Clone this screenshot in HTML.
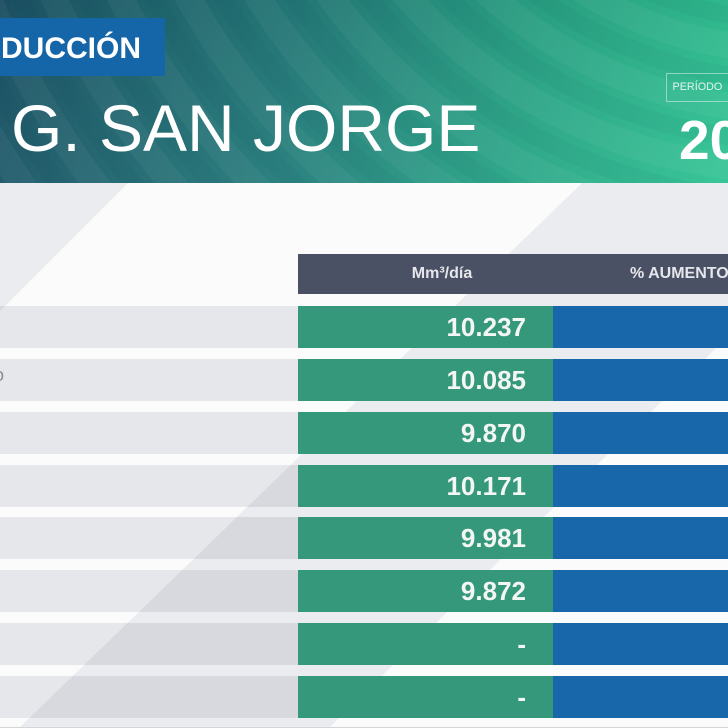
<!DOCTYPE html>
<html><head><meta charset="utf-8"><style>
html,body{margin:0;padding:0;}
body{width:728px;height:728px;overflow:hidden;position:relative;background:#fbfbfc;font-family:"Liberation Sans",Arial,sans-serif;}
.a{position:absolute;white-space:nowrap;}
.band{position:absolute;left:0;width:298px;height:42px;background:#e6e7ea;}
.g{position:absolute;left:298px;width:255px;height:42px;background:#35987a;color:#f4f6f4;font-weight:bold;font-size:26px;line-height:42px;text-align:right;box-sizing:border-box;padding-right:27px;}
.b{position:absolute;left:553px;width:175px;height:42px;background:#1867aa;}
</style></head><body>

<!-- body backgrounds -->
<div class="band" style="top:306px"></div>
<div class="band" style="top:359px"></div>
<div class="band" style="top:412px"></div>
<div class="band" style="top:465px"></div>
<div class="band" style="top:517px"></div>
<div class="band" style="top:570px"></div>
<div class="band" style="top:623px"></div>
<div class="band" style="top:676px"></div>

<svg class="a" style="left:0;top:0" width="728" height="728">
  <polygon points="582,183 884,183 329,728 19,728" fill="rgb(40,50,80)" fill-opacity="0.075"/>
  <polygon points="0,183 128,183 0,311" fill="rgb(40,50,80)" fill-opacity="0.075"/>
  <rect x="0" y="727" width="728" height="1" fill="#d4d5d8"/>
</svg>

<div class="a" style="left:-6px;top:366px;font-size:18px;line-height:18px;color:#8a8b8f;">o</div>

<!-- header -->
<svg class="a" style="left:0;top:0" width="728" height="183">
  <defs>
    <linearGradient id="hg" x1="0" y1="0" x2="728" y2="120" gradientUnits="userSpaceOnUse">
      <stop offset="0" stop-color="#1c5366"/>
      <stop offset="0.4" stop-color="#257c7b"/>
      <stop offset="0.7" stop-color="#2aa386"/>
      <stop offset="1" stop-color="#32c394"/>
    </linearGradient>
    <linearGradient id="vg" x1="0" y1="0" x2="0" y2="183" gradientUnits="userSpaceOnUse">
      <stop offset="0" stop-color="#000" stop-opacity="0.05"/>
      <stop offset="1" stop-color="#fff" stop-opacity="0.03"/>
    </linearGradient>
  </defs>
  <rect width="728" height="183" fill="url(#hg)"/>
  <rect width="728" height="183" fill="url(#vg)"/>
  <g fill="none" stroke="#ffffff" stroke-opacity="0.045" stroke-width="26">
    <circle cx="790" cy="-340" r="330"/>
    <circle cx="790" cy="-340" r="390"/>
    <circle cx="790" cy="-340" r="450"/>
    <circle cx="790" cy="-340" r="510"/>
    <circle cx="790" cy="-340" r="570"/>
    <circle cx="790" cy="-340" r="630"/>
    <circle cx="790" cy="-340" r="690"/>
    <circle cx="790" cy="-340" r="750"/>
    <circle cx="790" cy="-340" r="810"/>
    <circle cx="790" cy="-340" r="870"/>
    <circle cx="790" cy="-340" r="930"/>
    <circle cx="790" cy="-340" r="990"/>
  </g>
  <g fill="none" stroke="#0a3040" stroke-opacity="0.04" stroke-width="18">
    <circle cx="790" cy="-340" r="360"/>
    <circle cx="790" cy="-340" r="420"/>
    <circle cx="790" cy="-340" r="480"/>
    <circle cx="790" cy="-340" r="540"/>
    <circle cx="790" cy="-340" r="600"/>
    <circle cx="790" cy="-340" r="660"/>
    <circle cx="790" cy="-340" r="720"/>
    <circle cx="790" cy="-340" r="780"/>
    <circle cx="790" cy="-340" r="840"/>
    <circle cx="790" cy="-340" r="900"/>
    <circle cx="790" cy="-340" r="960"/>
  </g>
</svg>

<div class="a" style="left:0;top:18px;width:165px;height:58px;background:#1565a9;"></div>
<div class="a" style="right:587px;top:34px;font-size:30px;line-height:30px;font-weight:bold;color:#ffffff;">PRODUCCIÓN</div>

<div class="a" style="left:11px;top:94.5px;font-size:66px;line-height:66px;color:#ffffff;">G. SAN JORGE</div>

<div class="a" style="left:665.5px;top:73px;width:80px;height:27px;border:1px solid rgba(255,255,255,0.45);"></div>
<div class="a" style="left:672.5px;top:81.5px;font-size:10.8px;line-height:10.8px;color:rgba(255,255,255,0.85);">PERÍODO</div>
<div class="a" style="left:679px;top:113.4px;font-size:55px;line-height:55px;font-weight:bold;color:#ffffff;">20</div>

<!-- table header -->
<div class="a" style="left:298px;top:254px;width:430px;height:40px;background:#4b5164;"></div>
<div class="a" style="left:342px;top:254px;width:200px;text-align:center;font-size:16px;line-height:40px;font-weight:bold;color:#e6e7ec;">Mm³/día</div>
<div class="a" style="left:630px;top:254px;font-size:16px;line-height:40px;font-weight:bold;color:#e6e7ec;">% AUMENTO</div>

<!-- rows -->
<div class="g" style="top:306px">10.237</div><div class="b" style="top:306px"></div>
<div class="g" style="top:359px">10.085</div><div class="b" style="top:359px"></div>
<div class="g" style="top:412px">9.870</div><div class="b" style="top:412px"></div>
<div class="g" style="top:465px">10.171</div><div class="b" style="top:465px"></div>
<div class="g" style="top:517px">9.981</div><div class="b" style="top:517px"></div>
<div class="g" style="top:570px">9.872</div><div class="b" style="top:570px"></div>
<div class="g" style="top:623px">-</div><div class="b" style="top:623px"></div>
<div class="g" style="top:676px">-</div><div class="b" style="top:676px"></div>

</body></html>
